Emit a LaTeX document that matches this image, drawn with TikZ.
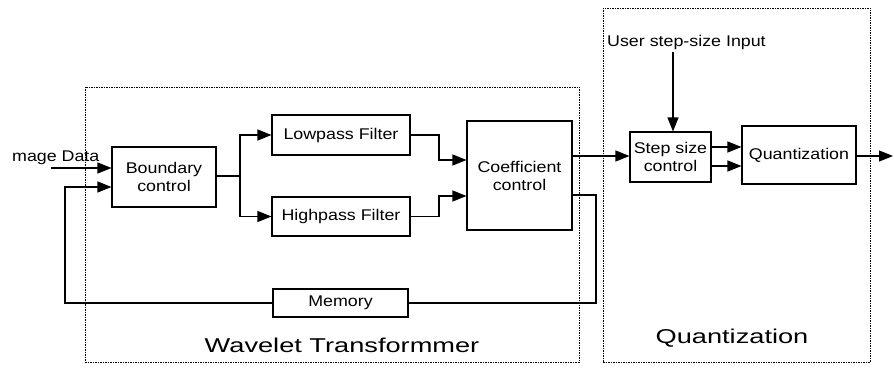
\documentclass[tikz,border=0pt]{standalone}
\usepackage{fontspec}
\setmainfont{Liberation Sans}[FakeStretch=1.15]
\newfontfamily\bigfont{Liberation Sans}[FakeStretch=1.36]
\usetikzlibrary{arrows.meta}
\begin{document}
\begin{tikzpicture}[x=1pt,y=-1pt,
 blk/.style={draw, line width=1.1pt, inner sep=0pt, align=center, font=\fontsize{15.5}{18}\selectfont},
 lbl/.style={inner sep=0pt, font=\fontsize{15.5}{18}\selectfont},
 conn/.style={line width=1.1pt},
 arr/.style={conn, -{Triangle[length=14pt,width=11pt]}},
 grp/.style={draw, line width=0.6pt, dash pattern=on 1.5pt off 1pt, inner sep=0pt},
 grplabel/.style={inner sep=0pt, anchor=base, font=\bigfont\fontsize{20}{24}\selectfont}]
\useasboundingbox (0,0) rectangle (894,367);
% group frames
\node[grp, minimum width=494pt, minimum height=275pt] (wtframe) at (332,224.5) {};
\node[grp, minimum width=267pt, minimum height=354pt] (qframe) at (736.5,185) {};
\node[grplabel] (wtlabel) at (342,352) {Wavelet Transformmer};
\node[grplabel] (qlabel) at (732,343) {Quantization};
% blocks
\node[blk, minimum width=104pt, minimum height=60pt] (bc) at (164,177) {Boundary\\control};
\node[blk, minimum width=138pt, minimum height=40pt] (lp) at (341,135) {Lowpass Filter};
\node[blk, minimum width=138pt, minimum height=39pt] (hp) at (341,216.5) {Highpass Filter};
\node[blk, minimum width=105pt, minimum height=109pt] (cc) at (519.5,175.5) {Coefficient\\control};
\node[blk, minimum width=135pt, minimum height=28pt] (mem) at (340.5,303) {Memory};
\node[blk, minimum width=81pt, minimum height=50pt] (sc) at (670.5,157) {Step size\\control};
\node[blk, minimum width=114pt, minimum height=58pt] (qz) at (799,155) {Quantization};
% labels
\node[lbl, anchor=base west] (img) at (12,161) {mage Data};
\node[lbl, anchor=base west] (usr) at (607,46) {User step-size Input};
% coordinates
\coordinate (imgin) at (51,168);
\coordinate (split) at (240,176);
\coordinate (mid) at (439,0);
\coordinate (lpin) at (0,160);
\coordinate (hpin) at (0,196);
\coordinate (loopx) at (596,0);
\coordinate (loopy) at (0,195);
\coordinate (fbx) at (65,0);
\coordinate (fby) at (0,187);
\coordinate (usrtop) at (673,52);
\coordinate (out) at (893,156);
% connectors
\draw[arr] (imgin) -- (imgin -| bc.west);
\draw[conn] (bc.east |- split) -- (split);
\draw[arr] (split) |- (lp.west);
\draw[arr] (split) |- (hp.west);
\draw[arr] (lp.east) -| (mid |- lpin) -- (cc.west |- lpin);
\draw[arr] (hp.east) -| (mid |- hpin) -- (cc.west |- hpin);
\draw[arr] (cc.east |- out) -- (sc.west |- out);
\draw[conn] (cc.east |- loopy) -| (loopx |- mem.east) -- (mem.east);
\draw[arr] (mem.west) -| (fbx |- fby) -- (bc.west |- fby);
\draw[arr] (usrtop) -- (usrtop |- sc.north);
\draw[arr] (sc.east |- 0,147) -- (qz.west |- 0,147);
\draw[arr] (sc.east |- 0,166) -- (qz.west |- 0,166);
\draw[arr] (qz.east |- out) -- (out);
\end{tikzpicture}
\end{document}
